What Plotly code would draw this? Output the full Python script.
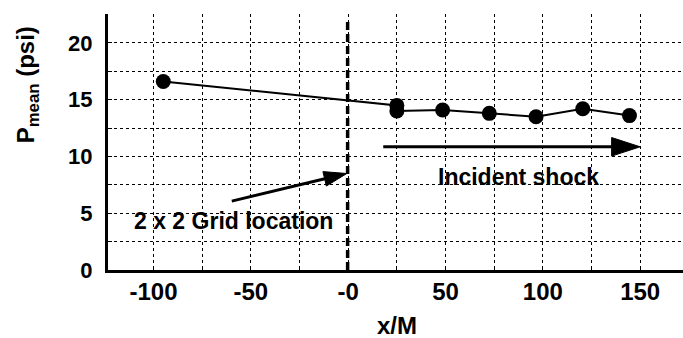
import plotly.graph_objects as go

# Data
x_pos = [-95, 25, 25, 48.5, 72.5, 96.5, 120.5, 144.5]
p_mean = [16.6, 14.5, 14.0, 14.1, 13.8, 13.5, 14.2, 13.6]

x_tickvals = [-100, -50, 0, 50, 100, 150]
x_ticktext = ["-100", "-50", "-0", "50", "100", "150"]
y_tickvals = [0, 5, 10, 15, 20]
y_ticktext = ["0", "5", "10", "15", "20"]

grid_x = [-0.3]              # 2 x 2 grid location (dashed line)
grid_line_top = [22.2]

grid_arrow_x = [-59.8, -0.7]
grid_arrow_y = [6.07, 8.5]
shock_arrow_x = [18, 150]
shock_arrow_y = [10.85, 10.85]

label_grid = "2 x 2 Grid location"
label_grid_pos = (-59, 4.35)
label_shock = "Incident shock"
label_shock_pos = (87.5, 8.2)

FONT = "Liberation Sans, Arial, sans-serif"

fig = go.Figure()

# Dashed vertical grid-location line
fig.add_trace(go.Scatter(
    x=[grid_x[0], grid_x[0]], y=[0, grid_line_top[0]], mode="lines",
    line=dict(color="black", width=3.5, dash="8px,4px"),
    hoverinfo="skip", showlegend=False))

# Data series
fig.add_trace(go.Scatter(
    x=x_pos, y=p_mean, mode="lines+markers",
    line=dict(color="black", width=2),
    marker=dict(color="black", size=15, opacity=1),
    showlegend=False))

# Arrows
for ax_, ay_, hs in [(grid_arrow_x, grid_arrow_y, 24), (shock_arrow_x, shock_arrow_y, 30)]:
    fig.add_trace(go.Scatter(
        x=ax_, y=ay_, mode="lines+markers",
        line=dict(color="black", width=3),
        marker=dict(symbol="arrow", angleref="previous", size=[0, hs],
                    color="black", opacity=1, line=dict(width=1, color="black")),
        hoverinfo="skip", showlegend=False))

fig.add_annotation(x=label_grid_pos[0], y=label_grid_pos[1], text=label_grid,
                   showarrow=False, xref="x", yref="y",
                   font=dict(family=FONT, size=23, color="black", weight="bold"))
fig.add_annotation(x=label_shock_pos[0], y=label_shock_pos[1], text=label_shock,
                   showarrow=False, xref="x", yref="y",
                   font=dict(family=FONT, size=23, color="black", weight="bold"))

# Axis titles
fig.add_annotation(x=-0.141, y=0.725, xref="paper", yref="paper",
                   text="P<sub>mean</sub> (psi)", textangle=-90, showarrow=False,
                   xanchor="center", yanchor="middle",
                   font=dict(family=FONT, size=24, color="black", weight="bold"))
fig.add_annotation(x=0.503, y=-0.215, xref="paper", yref="paper",
                   text="x/M", showarrow=False, xanchor="center", yanchor="middle",
                   borderpad=0,
                   font=dict(family=FONT, size=24, color="black", weight="bold"))

fig.update_xaxes(
    range=[-123.4, 172], tickvals=x_tickvals, ticktext=x_ticktext,
    showline=True, linecolor="black", linewidth=3, mirror=False,
    showgrid=True, gridcolor="black", gridwidth=1, griddash="dot",
    zeroline=False, ticks="inside", ticklen=4, tickcolor="black",
    ticklabelstandoff=-2,
    minor=dict(dtick=25, tick0=0, showgrid=True, gridcolor="black", gridwidth=1,
               griddash="dot", ticks="inside", ticklen=4, tickcolor="black"),
    tickfont=dict(family=FONT, size=24, color="black", weight="bold"))
fig.update_yaxes(
    range=[0, 22.55], tickvals=y_tickvals, ticktext=y_ticktext,
    showline=True, linecolor="black", linewidth=3,
    showgrid=True, gridcolor="black", gridwidth=1, griddash="dot",
    zeroline=False, ticks="inside", ticklen=4, tickcolor="black",
    ticklabelstandoff=8,
    minor=dict(dtick=2.5, tick0=0, showgrid=True, gridcolor="black", gridwidth=1,
               griddash="dot", ticks="inside", ticklen=4, tickcolor="black"),
    tickfont=dict(family=FONT, size=22, color="black", weight="bold"))

fig.update_layout(
    width=683, height=338, margin=dict(l=108, r=0, t=14, b=68),
    plot_bgcolor="white", paper_bgcolor="white", showlegend=False)

fig.write_html("out.html")
